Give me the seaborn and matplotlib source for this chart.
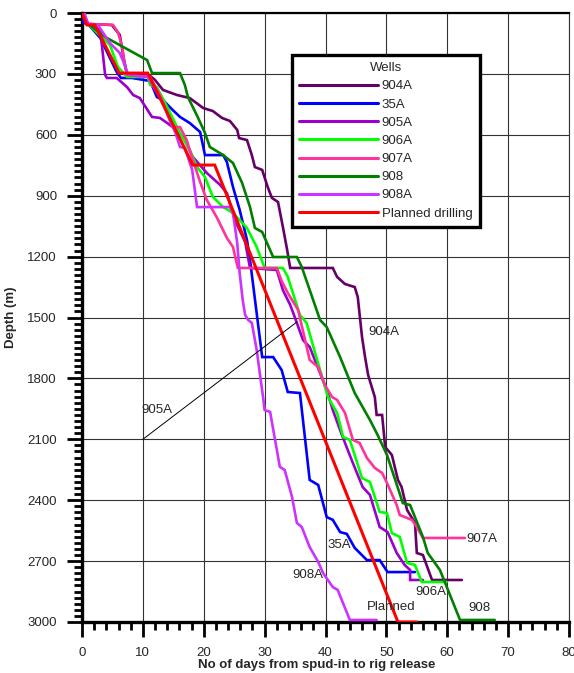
import matplotlib
matplotlib.use('Agg')
import matplotlib.pyplot as plt
import seaborn as sns
import pandas as pd
from matplotlib.ticker import MultipleLocator
from matplotlib.lines import Line2D

# ---------------- data ----------------
wells = ['904A', '35A', '905A', '906A', '907A', '908', '908A', 'Planned drilling']

days_904A = [0, 1.0, 4.9, 6.2, 6.9, 7.4, 11.2, 12.0, 13.3, 15.6, 17.7, 19.9, 21.5, 23.0, 24.3, 25.5, 25.8,
             27.1, 27.9, 28.4, 29.6, 30.5, 31.2, 32.2, 33.0, 33.7, 34.2, 41.2, 41.9, 43.2, 44.8, 45.3,
             46.0, 46.5, 47.0, 48.1, 48.4, 49.3, 49.8, 50.9, 51.9, 52.5, 53.4, 54.7, 55.0, 56.0, 57.5, 62.4]
depth_904A = [0, 54, 59, 108, 232, 300, 310, 330, 379, 404, 419, 468, 483, 517, 532, 576, 616,
              626, 700, 759, 773, 857, 911, 931, 1054, 1167, 1256, 1256, 1300, 1335, 1350, 1399,
              1596, 1695, 1783, 1892, 1980, 1980, 2138, 2177, 2300, 2335, 2448, 2512, 2660, 2670, 2793, 2793]

days_35A = [0, 0.2, 1.0, 3.0, 5.7, 6.4, 8.2, 11.2, 12.3, 13.3, 14.9, 16.1, 17.7, 19.4, 20.2, 23.2, 23.8,
            24.8, 25.9, 27.1, 27.6, 29.6, 31.4, 32.8, 33.8, 35.8, 37.4, 38.8, 40.2, 41.2, 42.4, 43.5,
            44.8, 46.8, 48.9, 50.2, 54.7]
depth_35A = [0, 49, 54, 123, 291, 320, 320, 335, 414, 429, 478, 512, 542, 586, 700, 700, 734,
             857, 970, 1118, 1217, 1695, 1695, 1759, 1867, 1872, 2300, 2325, 2483, 2497, 2557, 2566,
             2635, 2695, 2695, 2754, 2754]

days_905A = [0, 1.0, 3.0, 3.8, 4.1, 5.7, 7.4, 8.4, 9.5, 11.5, 12.8, 14.0, 14.9, 16.6, 18.2, 20.5, 22.7,
             23.8, 25.1, 26.8, 27.6, 32.0, 33.0, 34.2, 35.0, 36.3, 37.4, 39.1, 40.2, 41.2, 42.7, 44.3,
             46.1, 47.3, 48.9, 50.2, 51.7, 53.0, 53.9, 53.9, 56.0]
depth_905A = [0, 54, 84, 305, 320, 320, 365, 404, 419, 512, 517, 542, 562, 611, 709, 788, 847,
              887, 1020, 1128, 1256, 1266, 1365, 1438, 1502, 1611, 1645, 1773, 1857, 1956, 2079, 2202,
              2335, 2374, 2532, 2557, 2660, 2719, 2744, 2793, 2793]

days_906A = [0, 1.0, 4.6, 5.9, 7.4, 10.8, 11.2, 12.3, 14.0, 16.1, 17.7, 18.9, 20.2, 21.5, 23.2, 24.8,
             27.1, 28.7, 30.0, 33.0, 33.8, 35.8, 36.9, 38.3, 40.4, 41.9, 42.9, 44.0, 46.0, 47.3, 48.9,
             50.1, 50.9, 52.2, 53.4, 54.7, 55.8, 59.9]
depth_906A = [0, 54, 158, 266, 315, 315, 355, 365, 463, 591, 675, 759, 808, 906, 956, 985,
              1059, 1153, 1256, 1256, 1300, 1488, 1527, 1675, 1892, 1970, 2089, 2103, 2291, 2310, 2458,
              2463, 2562, 2581, 2709, 2719, 2803, 2803]

days_907A = [0, 1.0, 5.1, 5.9, 6.6, 7.1, 7.4, 11.2, 12.8, 14.9, 16.1, 17.2, 18.2, 19.4, 20.5, 22.2,
             23.8, 24.8, 25.6, 32.0, 32.8, 33.8, 35.5, 37.4, 38.8, 39.9, 41.1, 41.9, 43.2, 44.5, 45.6,
             46.8, 48.1, 49.3, 50.1, 51.7, 52.2, 54.2, 55.0, 56.0, 62.9]
depth_907A = [0, 54, 59, 94, 167, 266, 305, 315, 404, 562, 562, 626, 724, 832, 921, 1010,
              1108, 1153, 1256, 1256, 1320, 1379, 1463, 1709, 1744, 1833, 1892, 1906, 1970, 2103, 2118,
              2192, 2241, 2266, 2315, 2424, 2473, 2497, 2532, 2586, 2586]

days_908 = [0, 1.0, 3.8, 6.2, 10.7, 11.5, 16.1, 16.9, 17.4, 19.0, 20.2, 21.0, 23.2, 24.8, 26.3, 27.6,
            28.4, 29.6, 31.4, 35.3, 36.1, 39.1, 40.2, 42.4, 44.8, 47.3, 48.4, 50.1, 52.7, 53.9, 56.0,
            56.8, 58.8, 62.1, 67.8]
depth_908 = [0, 54, 118, 158, 232, 296, 296, 355, 414, 512, 591, 660, 700, 739, 837, 956,
             1059, 1079, 1202, 1202, 1251, 1512, 1547, 1695, 1872, 2005, 2069, 2177, 2414, 2424, 2581,
             2660, 2744, 2990, 2990]

days_908A = [0.4, 1.0, 2.6, 4.6, 6.2, 6.7, 7.6, 10.8, 13.3, 14.4, 15.3, 16.1, 16.9, 18.1, 18.9, 24.3,
             24.8, 25.5, 25.9, 26.4, 26.8, 27.3, 27.9, 28.7, 29.2, 29.7, 30.0, 30.9, 32.5, 33.3, 34.5,
             35.3, 36.1, 37.4, 38.8, 39.6, 41.2, 42.0, 44.0, 48.4]
depth_908A = [0, 54, 59, 148, 197, 232, 305, 315, 443, 527, 586, 660, 665, 773, 956, 956,
              985, 1133, 1281, 1414, 1488, 1512, 1527, 1660, 1773, 1882, 1956, 1965, 2236, 2251, 2384,
              2512, 2532, 2631, 2704, 2759, 2828, 2842, 2990, 2990]

days_planned = [0, 0.8, 2.1, 6.1, 10.8, 18.2, 21.8, 51.9, 55.0]
depth_planned = [0, 59, 59, 296, 296, 749, 749, 3000, 3000]

series = {
    '904A': (days_904A, depth_904A),
    '35A': (days_35A, depth_35A),
    '905A': (days_905A, depth_905A),
    '906A': (days_906A, depth_906A),
    '907A': (days_907A, depth_907A),
    '908': (days_908, depth_908),
    '908A': (days_908A, depth_908A),
    'Planned drilling': (days_planned, depth_planned),
}

colors = {
    '904A': '#660066',
    '35A': '#0000FF',
    '905A': '#9900CC',
    '906A': '#00FF00',
    '907A': '#FF3399',
    '908': '#007F00',
    '908A': '#CC33FF',
    'Planned drilling': '#FF0000',
}

# on-chart labels: (text, day, depth)
annotations = [
    ('904A', 47.0, 1571),
    ('35A', 40.4, 2621),
    ('908A', 34.6, 2768),
    ('906A', 54.7, 2852),
    ('907A', 63.2, 2591),
    ('908', 63.4, 2931),
    ('Planned', 46.8, 2926),
]

# ---------------- plot ----------------
sns.set_style('white')
plt.rcParams['font.family'] = ['Liberation Sans', 'DejaVu Sans']

fig = plt.figure(figsize=(5.74, 6.73), dpi=100)
ax = fig.add_axes([82 / 574, 1 - 622 / 673, 487 / 574, 609 / 673])

frames = []
for w in wells:
    d, z = series[w]
    frames.append(pd.DataFrame({'days': d, 'depth': z, 'well': w}))
df = pd.concat(frames, ignore_index=True)

for w in wells:
    sub = df[df['well'] == w]
    sns.lineplot(data=sub, x='days', y='depth', color=colors[w], sort=False, estimator=None,
                 linewidth=2.2 if w == 'Planned drilling' else 1.9, ax=ax, legend=False,
                 solid_joinstyle='miter', zorder=3)

ax.set_xlim(0, 80)
ax.set_ylim(3000, 0)
ax.xaxis.set_major_locator(MultipleLocator(10))
ax.xaxis.set_minor_locator(MultipleLocator(2))
ax.yaxis.set_major_locator(MultipleLocator(300))
ax.yaxis.set_minor_locator(MultipleLocator(30))

ax.grid(True, which='major', color='#333333', linewidth=0.8)
ax.set_axisbelow(True)

ax.tick_params(axis='both', which='major', direction='out', length=11, width=2.0,
               labelsize=9.5, color='black', pad=7)
ax.tick_params(axis='both', which='minor', direction='out', length=6, width=2.0, color='black')
ax.tick_params(axis='x', which='both', bottom=True, top=False)
ax.tick_params(axis='y', which='both', left=True, right=False)

for s in ['left', 'bottom']:
    ax.spines[s].set_linewidth(2.4)
    ax.spines[s].set_color('black')
ax.spines['top'].set_linewidth(1.6)
ax.spines['top'].set_color('black')
ax.spines['right'].set_linewidth(0.8)
ax.spines['right'].set_color('#333333')

ax.set_xlabel('No of days from spud-in to rig release', fontsize=9.5, fontweight='bold')
ax.set_ylabel('Depth (m)', fontsize=9.5, fontweight='bold')
ax.xaxis.set_label_coords(0.482, -0.06)
ax.yaxis.set_label_coords(-0.133, 0.5)

for txt, x, y in annotations:
    ax.text(x, y, txt, fontsize=9.5, ha='left', va='center', zorder=4)

# 905A leader line
ax.plot([10, 35.3], [2100, 1522], color='black', linewidth=0.7, zorder=4)
ax.text(9.7, 1956, '905A', fontsize=9.5, ha='left', va='center', zorder=4)

handles = [Line2D([0], [0], color=colors[w], linewidth=2.2) for w in wells]
leg = fig.legend(handles, wells, title='Wells', loc='upper left',
                 bbox_to_anchor=(292 / 574, 1 - 55 / 673), bbox_transform=fig.transFigure,
                 fontsize=9.5, title_fontsize=9.5, handlelength=6.0, handletextpad=0.25,
                 labelspacing=0.45, borderpad=0.55, borderaxespad=0, fancybox=False,
                 framealpha=1, edgecolor='black')
leg.get_frame().set_linewidth(2.4)

fig.savefig('out.png', dpi=100)
